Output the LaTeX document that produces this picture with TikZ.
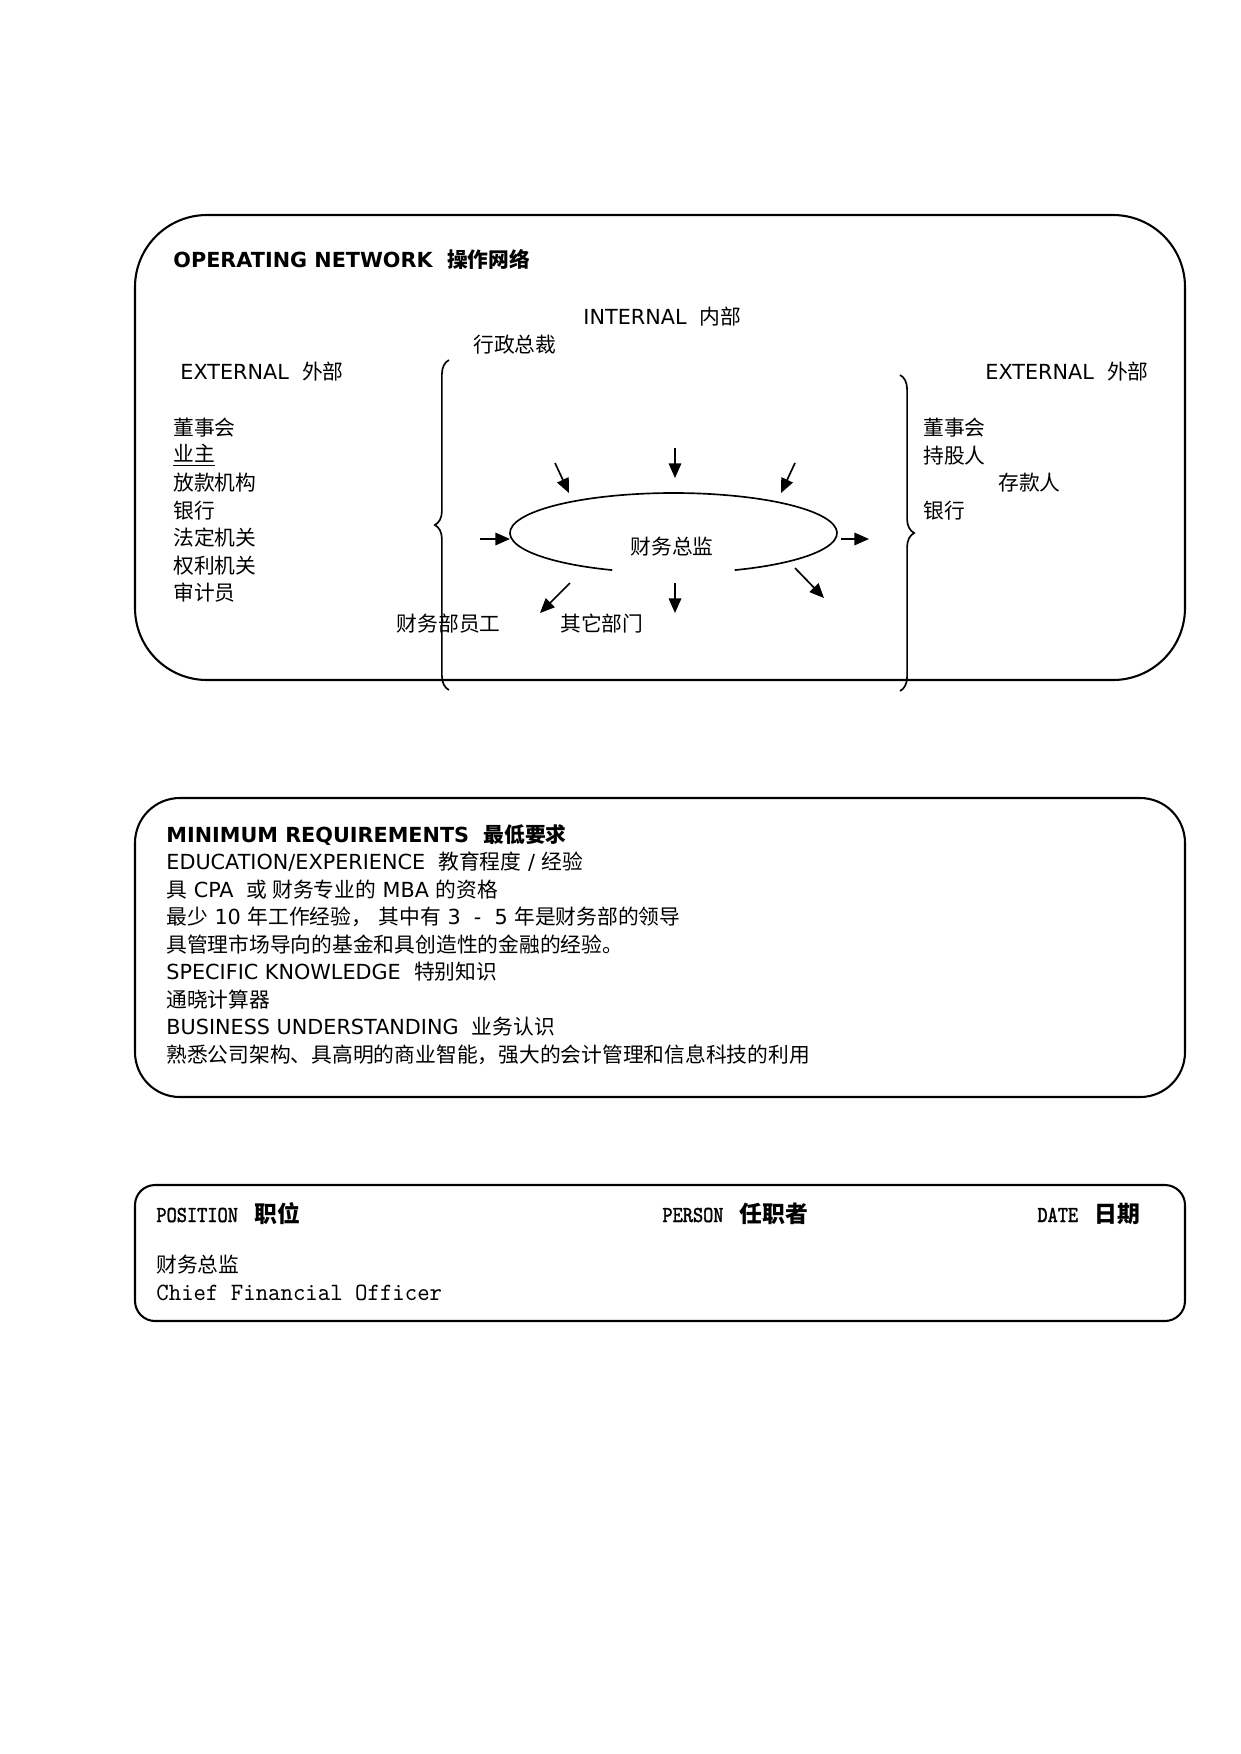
\documentclass[tikz,border=0pt]{standalone}
\usepackage{fontspec}
\setmainfont{DejaVu Sans}
\newfontfamily\cjk{Noto Sans CJK SC}
\newfontfamily\typewr[FakeStretch=0.95]{lmmono10-regular.otf}
\newfontfamily\typewrh[FakeStretch=0.85,FakeBold=1.5]{lmmono10-regular.otf}
\newcommand{\zh}[1]{{\cjk #1}}
\usetikzlibrary{arrows.meta,decorations.pathreplacing}
\tikzstyle{frame} = [draw, line width=1pt]
\tikzstyle{txt} = [inner sep=0pt, anchor=base west]
\tikzstyle{entry} = [inner sep=0pt, anchor=west, font=\cjk]
\tikzstyle{flow} = [draw, line width=0.8pt, -{Triangle[length=7pt,width=6pt]}]
\tikzstyle{bracket} = [draw, line width=0.8pt, decorate, decoration={brace, amplitude=2.4mm}]
\tikzstyle{monohead} = [txt, font=\typewrh\bfseries\fontsize{11}{13}\selectfont]

\begin{document}
\begin{tikzpicture}[x=0.16933mm, y=-0.16933mm]
\useasboundingbox (0,0) rectangle (1240,1754);

% frames
\draw[frame, rounded corners=12.2mm] (135,215) rectangle (1185,680);
\draw[frame, rounded corners=7.6mm] (135,798) rectangle (1185,1097);
\draw[frame, rounded corners=3.4mm] (135,1185) rectangle (1185,1321);

%Operating network
\node[txt, font=\bfseries] (opnet) at (173,267) {OPERATING NETWORK\ \ \zh{操作网络}};
\node[txt] (internal) at (583,324) {INTERNAL\ \ \zh{内部}};
\node[txt] (extl) at (180,379) {EXTERNAL\ \ \zh{外部}};
\node[txt] (extr) at (985,379) {EXTERNAL\ \ \zh{外部}};

%left external
\def\lh{27.5}
\foreach \i/\name/\t in {0/lboard/董事会, 1/lowner/\underline{业主}, 2/llender/放款机构, 3/lbank/银行, 4/llegal/法定机关, 5/lrights/权利机关, 6/laudit/审计员}
    \node[entry] (\name) at (173, 428+\i*\lh) {\t};

%right external
\foreach \pos/\name/\t in {{(923,428)/rboard/董事会}, {(923,455.5)/rholder/持股人}, {(998,483)/rdepositor/存款人}, {(923,510.5)/rbank/银行}}
    \node[entry] (\name) at \pos {\t};

%internal
\node[entry] (ceo) at (473,345) {行政总裁};
\node[entry, anchor=east] (staff) at (501,624) {财务部员工};
\node[entry] (depts) at (560,624) {其它部门};
\node[entry, anchor=center] (cfo) at (672,547) {财务总监};
\draw[line width=0.8pt] (673.5,533) ++(112:163.5 and 40) arc[start angle=112, end angle=428, x radius=163.5, y radius=40];

% arrows round the ellipse
\coordinate (n1) at (675,448);  \coordinate (n2) at (675,478);
\coordinate (nw1) at (555,463); \coordinate (nw2) at (569,493);
\coordinate (ne1) at (795,463); \coordinate (ne2) at (781,493);
\coordinate (w1) at (480,539);  \coordinate (w2) at (510,539);
\coordinate (e1) at (841,539);  \coordinate (e2) at (869,539);
\coordinate (s1) at (675,583);  \coordinate (s2) at (675,613);
\coordinate (sw1) at (570,583); \coordinate (sw2) at (540,613);
\coordinate (se1) at (795,568); \coordinate (se2) at (824,598);
\foreach \dir in {n,nw,ne,w,e,s,sw,se}
    \path[flow] (\dir1) -- (\dir2);

% braces
\coordinate (lbtop) at (449,360);
\coordinate (lbbot) at (449,690);
\coordinate (rbtop) at (900,375);
\coordinate (rbbot) at (900,691);
\draw[bracket] (lbbot) -- (lbtop);
\draw[bracket] (rbtop) -- (rbbot);

%Minimum requirements
\def\rtop{842}
\node[txt, font=\bfseries] (req0) at (166,\rtop) {MINIMUM REQUIREMENTS\ \ \zh{最低要求}};
\node[txt] (req1) at (166,\rtop+1*\lh) {EDUCATION/EXPERIENCE\ \ \zh{教育程度} / \zh{经验}};
\node[txt] (req2) at (166,\rtop+2*\lh) {\zh{具} CPA\ \ \zh{或 财务专业的} MBA \zh{的资格}};
\node[txt] (req3) at (166,\rtop+3*\lh) {\zh{最少} 10 \zh{年工作经验，} \zh{其中有} 3\ \ -\ \ 5 \zh{年是财务部的领导}};
\node[txt] (req4) at (166,\rtop+4*\lh) {\zh{具管理市场导向的基金和具创造性的金融的经验。}};
\node[txt] (req5) at (166,\rtop+5*\lh) {SPECIFIC KNOWLEDGE\ \ \zh{特别知识}};
\node[txt] (req6) at (166,\rtop+6*\lh) {\zh{通晓计算器}};
\node[txt] (req7) at (166,\rtop+7*\lh) {BUSINESS UNDERSTANDING\ \ \zh{业务认识}};
\node[txt] (req8) at (166,\rtop+8*\lh) {\zh{熟悉公司架构、具高明的商业智能，强大的会计管理和信息科技的利用}};

%Position
\node[monohead] (position) at (156,1222) {POSITION\ \hspace{3pt}\zh{职位}};
\node[monohead] (person) at (662,1222) {PERSON\ \hspace{3pt}\zh{任职者}};
\node[monohead] (date) at (1037,1222) {DATE\ \hspace{3pt}\zh{日期}};
\node[entry] (title) at (156,1265) {财务总监};
\node[txt, font=\typewr\fontsize{12}{14}\selectfont] (titleen) at (156,1300) {Chief Financial Officer};

\end{tikzpicture}
\end{document}
